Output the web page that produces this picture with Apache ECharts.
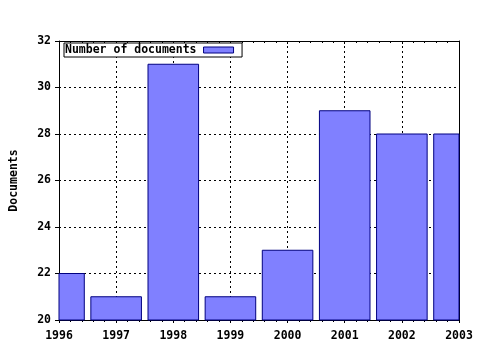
<!DOCTYPE html>
<html><head><meta charset="utf-8">
<script src="https://cdn.jsdelivr.net/npm/echarts@6/dist/echarts.min.js"></script>
<style>html,body{margin:0;padding:0;background:#fff}#c{width:480px;height:350px}</style>
</head><body><div id="c"></div>
<script>
const years = [1996, 1997, 1998, 1999, 2000, 2001, 2002, 2003];
const documents = [22, 21, 31, 21, 23, 29, 28, 28];
const seriesName = 'Number of documents';
const yTicks = [20, 22, 24, 26, 28, 30, 32];

const font = 'DejaVu Sans Mono';
const fillColor = '#8080ff';
const edgeColor = '#000080';
const chart = echarts.init(document.getElementById('c'), null, {renderer: 'canvas'});
const axisTxt = {fontFamily: font, fontWeight: 'bold', fontSize: 11.5, color: '#000'};
chart.setOption({
  animation: false,
  backgroundColor: '#fff',
  grid: {left: 57, right: 21, top: 41, bottom: 30, containLabel: false},
  legend: {
    left: 64, top: 43, orient: 'horizontal', align: 'right',
    itemWidth: 30, itemHeight: 6, itemGap: 0,
    padding: [1, 8, 1, 1], borderColor: '#000', borderWidth: 1, borderRadius: 0,
    backgroundColor: '#fff',
    textStyle: {fontFamily: font, fontWeight: 'bold', fontSize: 11.5, color: '#000', padding: [0, 2, 0, 0]},
    data: [{name: seriesName, icon: 'rect', itemStyle: {color: fillColor, borderColor: edgeColor, borderWidth: 1}}]
  },
  xAxis: [{
    type: 'value', min: years[0], max: years[years.length - 1], interval: 1,
    axisLine: {show: true, lineStyle: {color: '#000', width: 1}},
    axisTick: {show: true, length: 3, lineStyle: {color: '#000'}},
    minorTick: {show: true, splitNumber: 5, length: 2, lineStyle: {color: '#000'}},
    axisLabel: Object.assign({margin: 10, formatter: v => String(v)}, axisTxt),
    splitLine: {show: true, lineStyle: {color: '#000', type: [2, 3], width: 1}}
  }, {
    type: 'value', position: 'top', min: years[0], max: years[years.length - 1], interval: 1,
    axisLine: {show: true, lineStyle: {color: '#000', width: 1}},
    axisTick: {show: true, inside: true, length: 3, lineStyle: {color: '#000'}},
    minorTick: {show: true, splitNumber: 5, length: 2, lineStyle: {color: '#000'}},
    axisLabel: {show: false}, splitLine: {show: false}
  }],
  yAxis: [{
    type: 'value', min: yTicks[0], max: yTicks[yTicks.length - 1], interval: 2,
    name: 'Documents', nameLocation: 'middle', nameRotate: 90, nameGap: 39,
    nameTextStyle: {fontFamily: font, fontWeight: 'bold', fontSize: 11.5, color: '#000'},
    axisLine: {show: true, lineStyle: {color: '#000', width: 1}},
    axisTick: {show: true, length: 4, lineStyle: {color: '#000'}},
    axisLabel: Object.assign({margin: 8}, axisTxt),
    splitLine: {show: true, lineStyle: {color: '#000', type: [2, 3], width: 1}}
  }, {
    type: 'value', position: 'right', min: yTicks[0], max: yTicks[yTicks.length - 1], interval: 2,
    axisLine: {show: true, lineStyle: {color: '#000', width: 1}},
    axisTick: {show: false}, axisLabel: {show: false}, splitLine: {show: false}
  }],
  series: [{
    name: seriesName, type: 'custom', xAxisIndex: 0, yAxisIndex: 0,
    itemStyle: {color: fillColor, borderColor: edgeColor, borderWidth: 1},
    encode: {x: 0, y: 1},
    renderItem: function (params, api) {
      const x = api.value(0), y = api.value(1);
      const top = api.coord([x, y]);
      const base = api.coord([x, yTicks[0]]);
      const w = api.size([0.885, 0])[0];
      const cs = params.coordSys;
      const shape = echarts.graphic.clipRectByRect(
        {x: top[0] - w / 2, y: top[1], width: w, height: base[1] - top[1]},
        {x: cs.x, y: cs.y, width: cs.width, height: cs.height}
      );
      if (!shape) return null;
      return {type: 'rect', shape: shape,
        style: {fill: fillColor, stroke: edgeColor, lineWidth: 1}};
    },
    data: years.map((y, i) => [y, documents[i]])
  }]
});
</script></body></html>
